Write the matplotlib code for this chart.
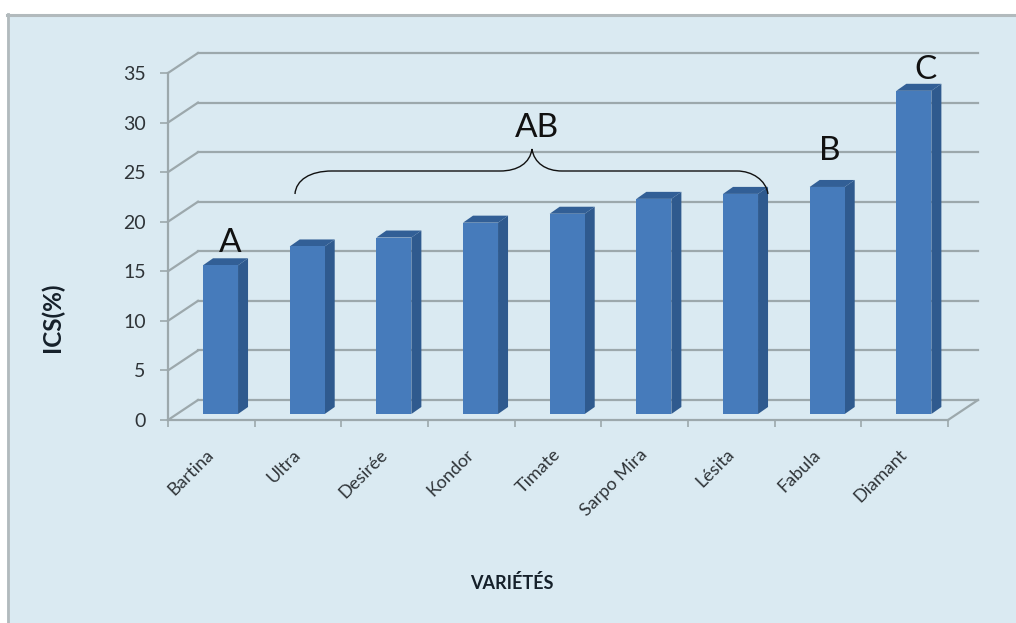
import matplotlib
matplotlib.use("Agg")
import matplotlib.pyplot as plt
from matplotlib.lines import Line2D
from matplotlib.patches import PathPatch, Polygon, Rectangle
from matplotlib.path import Path
from matplotlib.transforms import Affine2D

varieties = ["Bartina", "Ultra", "Desirée", "Kondor", "Timate", "Sarpo Mira", "Lésita", "Fabula", "Diamant"]
ics = [15.0, 16.9, 17.8, 19.3, 20.2, 21.7, 22.2, 22.9, 32.6]
y_ticks = [0, 5, 10, 15, 20, 25, 30, 35]
groups = ["A", "AB", "B", "C"]

W, H = 1016, 623
GRID = "#9ca8ac"
TEXT = "#2f3438"
plt.rcParams["font.family"] = ["Lato", "DejaVu Sans"]

fig = plt.figure(figsize=(W / 100, H / 100), dpi=100, facecolor="white")
# pixel coordinates with the origin at the top left, for the hand drawn notes
px = Affine2D().scale(1, -1).translate(0, H)

fig.add_artist(Rectangle((7, 14), W, H, transform=px, facecolor="#daeaf2", edgecolor="none", zorder=-2))
fig.add_artist(Line2D([7, W], [14.5, 14.5], transform=px, color="#b2babd", lw=2.2, zorder=-1))
fig.add_artist(Line2D([7.5, 7.5], [14, H], transform=px, color="#b2babd", lw=2.0, zorder=-1))

# the axes box is the front plane of the 3D look
left, right, bottom, top = 168, 948, 420, 73
ax = fig.add_axes([left / W, 1 - bottom / H, (right - left) / W, (bottom - top) / H])
ax.patch.set_visible(False)
ax.set_xlim(0, len(varieties))
ax.set_ylim(0, 35)
sx = len(varieties) / (right - left)
sy = 35 / (bottom - top)

# back wall depth, in data units
wall_x, wall_y = 30 * sx, 20 * sy
for v in y_ticks:
    ax.plot([0, wall_x], [v, v + wall_y], color=GRID, lw=1.6, clip_on=False, zorder=1)
    ax.plot([wall_x, len(varieties) + wall_x], [v + wall_y, v + wall_y], color=GRID, lw=1.6, clip_on=False, zorder=1)
ax.plot([len(varieties), len(varieties) + wall_x], [0, wall_y], color=GRID, lw=1.6, clip_on=False, zorder=1)

for name in ["top", "right"]:
    ax.spines[name].set_visible(False)
for name in ["left", "bottom"]:
    ax.spines[name].set_color(GRID)
    ax.spines[name].set_linewidth(1.6)

# bars sit a little behind the front plane
bar_w = 0.404
off_x, off_y = 9.2 * sx, 6 * sy
dep_x, dep_y = 10 * sx, 7 * sy
centers = [i + 0.5 + off_x for i in range(len(varieties))]
for c, v in zip(centers, ics):
    x0, x1 = c - bar_w / 2, c + bar_w / 2
    y0, y1 = off_y, v + off_y
    ax.add_patch(Polygon([(x1, y0), (x1 + dep_x, y0 + dep_y), (x1 + dep_x, y1 + dep_y), (x1, y1)],
                         facecolor="#2f5a8e", edgecolor="none", clip_on=False, zorder=3))
    ax.add_patch(Polygon([(x0, y1), (x0 + dep_x, y1 + dep_y), (x1 + dep_x, y1 + dep_y), (x1, y1)],
                         facecolor="#325f96", edgecolor="none", clip_on=False, zorder=3))
ax.bar(centers, ics, width=bar_w, bottom=off_y, color="#467bbb", edgecolor="none", clip_on=False, zorder=4)

ax.set_xticks(range(len(varieties) + 1))
ax.set_xticklabels([])
ax.tick_params(axis="x", which="major", length=5, width=1.2, color=GRID)
ax.set_xticks([i + 0.5 for i in range(len(varieties))], minor=True)
ax.set_xticklabels(varieties, minor=True, rotation=45, ha="right", va="center",
                   rotation_mode="anchor", fontsize=13, color=TEXT)
ax.tick_params(axis="x", which="minor", length=0, pad=23)
ax.set_yticks(y_ticks)
ax.set_yticklabels([str(v) for v in y_ticks], fontsize=14, color=TEXT)
ax.tick_params(axis="y", length=6, width=1.2, color=GRID, pad=10)

fig.text(512, 583, "VARIÉTÉS", transform=px, ha="center", va="center", fontsize=13, fontweight="bold", color="#15202a")
fig.text(52, 317, "ICS(%)", transform=px, ha="center", va="center", rotation=90, fontsize=17.5, fontweight="bold", color="#15202a")

# significance letters and the brace over the AB group
for label, x, y in zip(groups, [230, 537, 830, 925], [251.5, 137, 160, 79]):
    fig.text(x, y, label, transform=px, ha="center", va="baseline", fontsize=24, color="#111111", zorder=6)

codes = [Path.MOVETO, Path.CURVE4, Path.CURVE4, Path.CURVE4, Path.LINETO,
         Path.CURVE4, Path.CURVE4, Path.CURVE4, Path.CURVE4, Path.CURVE4, Path.CURVE4,
         Path.LINETO, Path.CURVE4, Path.CURVE4, Path.CURVE4]
verts = [(295, 194), (296, 180), (310, 171), (332, 171), (500, 171),
         (518, 171), (530, 163), (532, 149), (534, 163), (546, 171), (562, 171),
         (737, 171), (752, 171), (766, 180), (768, 194)]
fig.add_artist(PathPatch(Path(verts, codes), transform=px, facecolor="none", edgecolor="#111111", lw=1.0, zorder=6))

fig.savefig("out.png", dpi=100)
